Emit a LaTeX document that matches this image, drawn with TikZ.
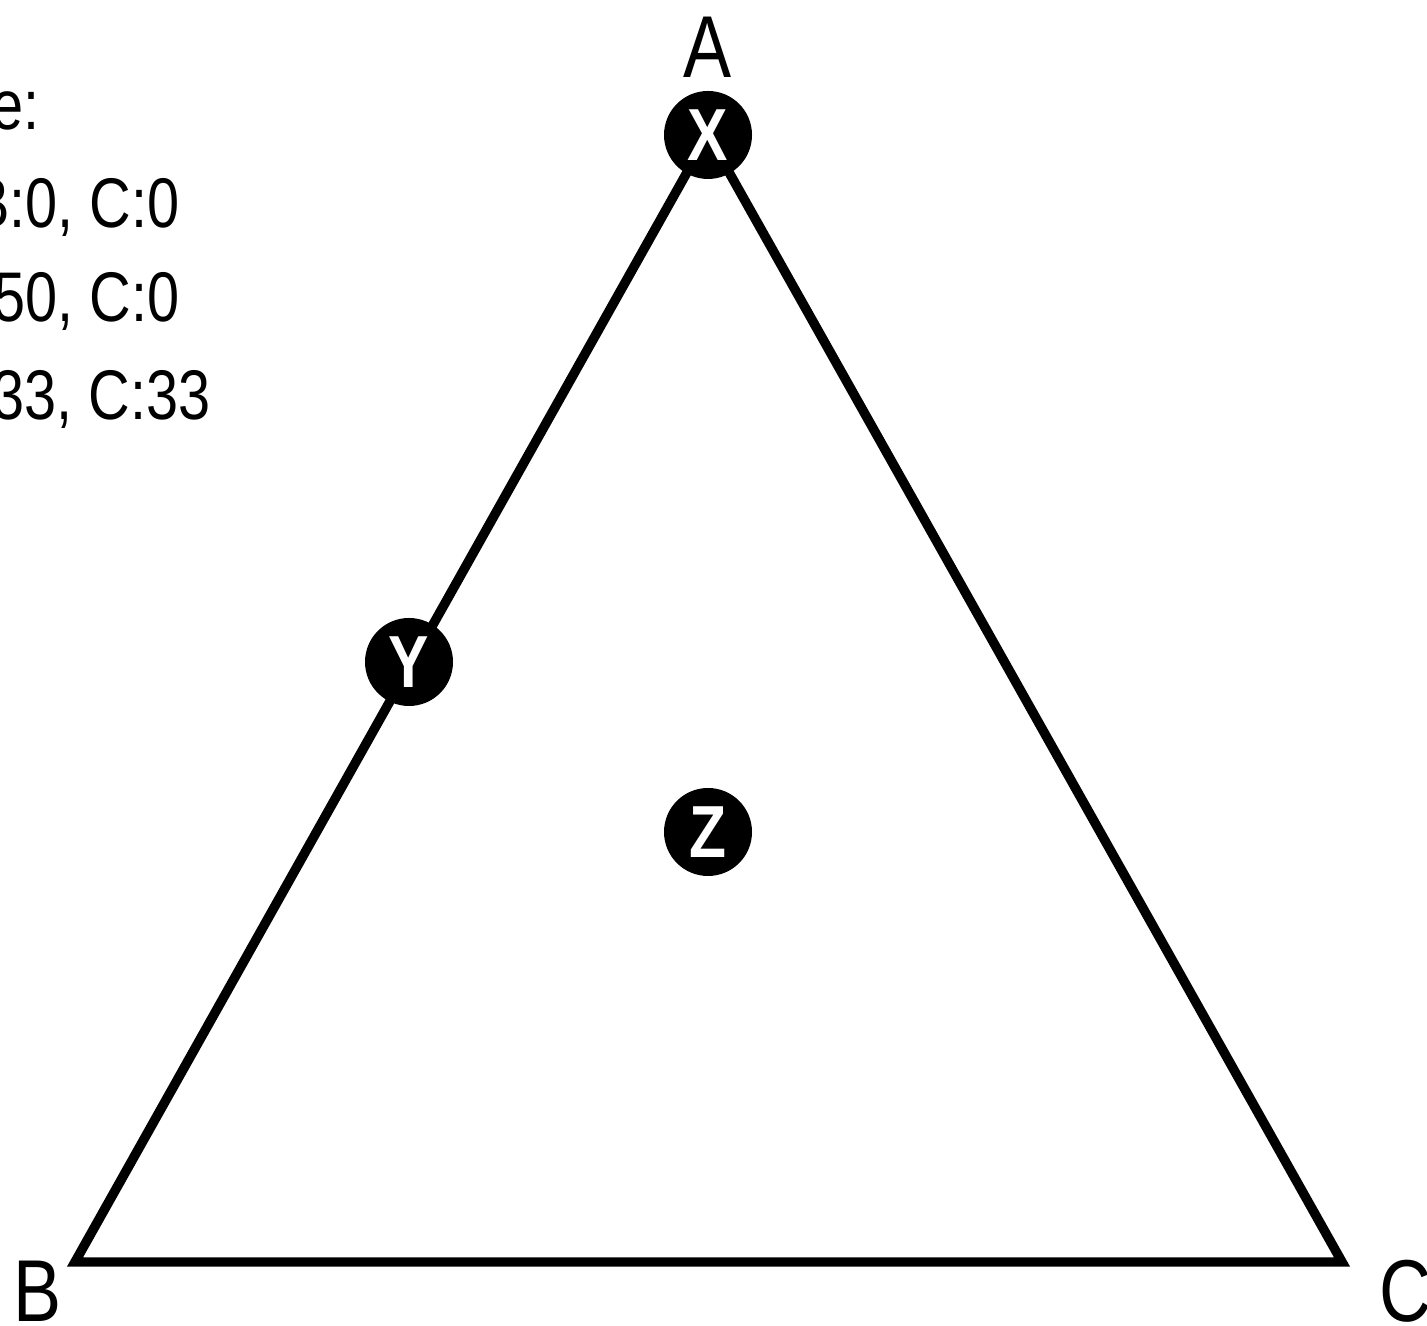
\documentclass[tikz,border=0pt]{standalone}
\usepackage{fontspec}
\setmainfont[FakeStretch=0.82]{Liberation Sans}
\begin{document}
\begin{tikzpicture}[line cap=round, line join=round,
  point/.style={circle, fill=black, text=white, minimum size=0.88cm, inner sep=0pt, font=\fontsize{21}{21}\selectfont\bfseries},
  vertex/.style={anchor=base, font=\fontsize{25}{25}\selectfont},
  legend/.style={anchor=base east, font=\fontsize{20}{20}\selectfont}]

% cornice
\clip (0,0) rectangle (14.27,13.26);
\useasboundingbox (0,0) rectangle (14.27,13.26);

% vertici del triangolo
\coordinate (tA) at (7.08,11.91);
\coordinate (tB) at (0.75,0.64);
\coordinate (tC) at (13.42,0.64);

\draw[line width=2.7pt, line join=miter] (tA) -- (tB) -- (tC) -- cycle;

% etichette dei vertici
\node[vertex] (labA) at (7.08,12.48) {A};
\node[vertex] (labB) at (0.38,0.04) {B};
\node[vertex] (labC) at (14.05,0.04) {C};

% punti X, Y, Z
\node[point] (X) at (tA) {X};
\node[point] (Y) at (4.09,6.64) {Y};
\node[point] (Z) at (7.08,4.94) {Z};

% legenda
\node[legend] (leg0) at (0.52,11.96) {Example:};
\node[legend] (leg1) at (1.92,10.98) {X: A:100, B:0, C:0};
\node[legend] (leg2) at (1.92,10.04) {Y: A:50, B:50, C:0};
\node[legend] (leg3) at (2.23,9.06) {Z: A:33, B:33, C:33};

\end{tikzpicture}
\end{document}
